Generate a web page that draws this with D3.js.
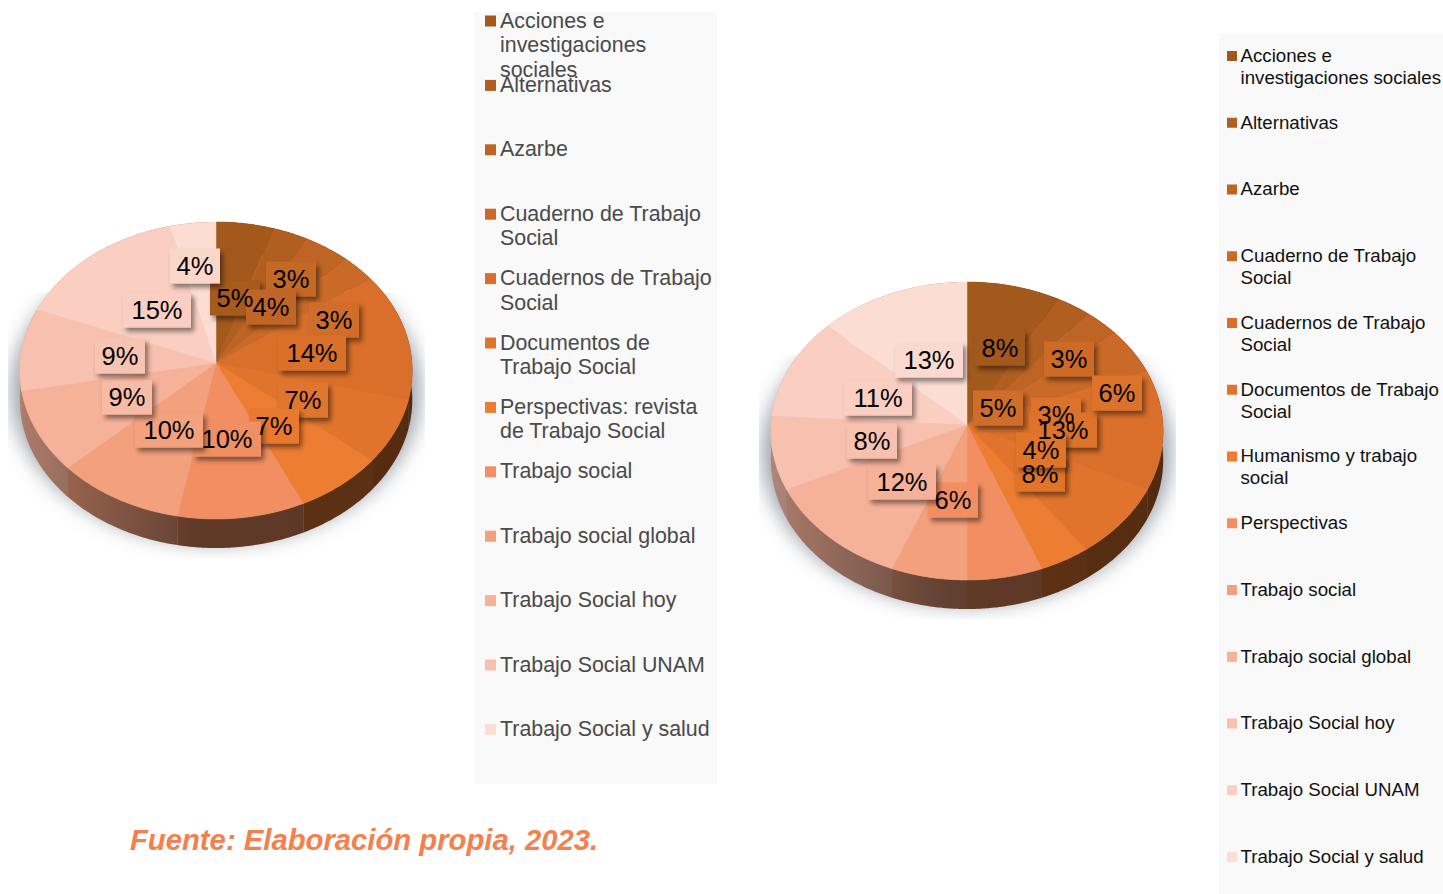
<!DOCTYPE html>
<html>
<head>
<meta charset="utf-8">
<script src="https://cdn.jsdelivr.net/npm/d3@7"></script>
<style>
  html, body { margin: 0; padding: 0; background: #fff; }
  svg { display: block; font-family: "Liberation Sans", Arial, sans-serif; }
</style>
</head>
<body>
<svg id="chart" width="1443" height="894"></svg>
<script>
const leftCategories = ["Acciones e|investigaciones|sociales", "Alternativas", "Azarbe", "Cuaderno de Trabajo|Social", "Cuadernos de Trabajo|Social", "Documentos de|Trabajo Social", "Perspectivas: revista|de Trabajo Social", "Trabajo social", "Trabajo social global", "Trabajo Social hoy", "Trabajo Social UNAM", "Trabajo Social y salud"];
const rightCategories = ["Acciones e|investigaciones sociales", "Alternativas", "Azarbe", "Cuaderno de Trabajo|Social", "Cuadernos de Trabajo|Social", "Documentos de Trabajo|Social", "Humanismo y trabajo|social", "Perspectivas", "Trabajo social", "Trabajo social global", "Trabajo Social hoy", "Trabajo Social UNAM", "Trabajo Social y salud"];

const leftValues = [5, 3, 4, 3, 14, 7, 7, 10, 10, 9, 9, 15, 4];
const rightValues = [8, 3, 3, 5, 13, 8, 4, 6, 6, 12, 8, 11, 13];

const sliceColors = ["#A3581C", "#B15E21", "#BE6425", "#C96A28", "#D96F2A", "#E0742C", "#ED7D31", "#F18F62", "#F3A07D", "#F6B199", "#F8C0AE", "#FACFC2", "#FBDDD4"];
const leftLegendColors = ["#A3581C", "#B15E21", "#BE6425", "#C96A28", "#D96F2A", "#E0742C", "#ED7D31", "#F18F62", "#F3A07D", "#F6B199", "#F8C0AE", "#FBDDD4"];

// label centres and box tints, in slice order, hand placed like the original
const leftSpots = [[235, 298], [291, 279], [271, 307], [334, 320], [312, 353], [303, 400], [274, 426], [227, 439], [169, 430], [127, 397], [120, 356], [157, 310], [195, 266]];
const leftBoxes = ["#A65A1D", "#C46726", "#C06526", "#D06D29", "#D9712B", "#E0752D", "#E8792F", "#F18F62", "#F4A27E", "#F8BCA6", "#F8C4B2", "#FACFC2", "#FBD6CA"];
const rightSpots = [[1000, 348], [1069, 359], [1056, 415], [998, 408], [1063, 430], [1040, 474], [1041, 450], [1117, 393], [953, 500], [902, 482], [872, 441], [878, 398], [929, 360]];
const rightBoxes = ["#A3581C", "#CC6B28", "#DB732C", "#CF6E2A", "#DD732C", "#E0752C", "#E0752C", "#DD732C", "#F18F62", "#F6B199", "#F8C0AE", "#FACFC2", "#FBD9CE"];

const svg = d3.select("#chart");
const defs = svg.append("defs");

defs.append("filter").attr("id", "blur").attr("x", "-20%").attr("y", "-20%").attr("width", "140%").attr("height", "140%")
  .append("feGaussianBlur").attr("stdDeviation", 10);

defs.append("filter").attr("id", "boxShadow").attr("x", "-20%").attr("y", "-20%").attr("width", "150%").attr("height", "150%")
  .append("feDropShadow").attr("dx", 3).attr("dy", 4).attr("stdDeviation", 2.5).attr("flood-color", "#000").attr("flood-opacity", 0.45);

function drawPie(opt) {
  const { cx, cy, radius, up, down, depth, values, spots, boxes, id } = opt;

  // the pie is seen in perspective, so the near half is a little longer
  const k = (down - up) / (down + up);
  const a = up * (1 + k);
  const project = (angle, dy) => {
    const ux = Math.sin(angle), uy = -Math.cos(angle);
    const w = 1 - k * uy;
    return [cx + radius * ux / w, cy + a * uy / w + (dy || 0)];
  };
  const sample = (start, end) => d3.range(0, 41).map(i => start + (end - start) * i / 40);
  const line = d3.line();

  const arcs = d3.pie().sort(null)(values);
  const g = svg.append("g").attr("id", id);

  // soft floor shadow, cut off by its box as in the picture
  const clipId = id + "-clip";
  defs.append("clipPath").attr("id", clipId).append("rect")
    .attr("x", cx - 208).attr("y", cy - 70).attr("width", 417).attr("height", 70 + down + depth + 10);
  g.append("g").attr("clip-path", `url(#${clipId})`)
    .append("ellipse")
    .attr("cx", cx).attr("cy", cy + 28).attr("rx", radius + 8).attr("ry", (up + down) / 2 + 4)
    .attr("fill", "#9aa0aa").attr("filter", "url(#blur)");

  // side wall, the far half is hidden by the top face
  const shadeId = id + "-shade";
  const shade = defs.append("linearGradient").attr("id", shadeId).attr("gradientUnits", "userSpaceOnUse")
    .attr("x1", cx - radius).attr("x2", cx + radius).attr("y1", 0).attr("y2", 0);
  [[0, 0.3], [0.45, 0.6], [1, 0.62]].forEach(s => {
    shade.append("stop").attr("offset", s[0]).attr("stop-color", "#000").attr("stop-opacity", s[1]);
  });
  const wallPath = d => {
    const pts = sample(d.startAngle, d.endAngle);
    return line(pts.map(t => project(t, 0)).concat(pts.slice().reverse().map(t => project(t, depth)))) + "Z";
  };
  g.selectAll(".wall").data(arcs).enter().append("path")
    .attr("class", "wall")
    .attr("d", wallPath)
    .attr("fill", (d, i) => sliceColors[i]);
  g.selectAll(".wallDark").data(arcs).enter().append("path")
    .attr("class", "wallDark")
    .attr("d", wallPath)
    .attr("fill", `url(#${shadeId})`);

  // top face
  g.selectAll(".slice").data(arcs).enter().append("path")
    .attr("class", "slice")
    .attr("d", d => line([[cx, cy]].concat(sample(d.startAngle, d.endAngle).map(t => project(t, 0)))) + "Z")
    .attr("fill", (d, i) => sliceColors[i])
    .attr("stroke", (d, i) => sliceColors[i])
    .attr("stroke-width", 0.5);

  // data labels: boxes first, so that no number is hidden by a later box
  g.selectAll(".labelBox").data(arcs).enter().append("rect")
    .attr("class", "labelBox")
    .attr("x", (d, i) => spots[i][0] - (d.value >= 10 ? 34 : 25))
    .attr("y", (d, i) => spots[i][1] - 17.5)
    .attr("width", d => d.value >= 10 ? 68 : 50)
    .attr("height", 35)
    .attr("fill", (d, i) => boxes[i])
    .attr("filter", "url(#boxShadow)");
  g.selectAll(".labelText").data(arcs).enter().append("text")
    .attr("class", "labelText")
    .attr("x", (d, i) => spots[i][0])
    .attr("y", (d, i) => spots[i][1] + 9)
    .attr("text-anchor", "middle")
    .attr("font-size", 25.5)
    .attr("fill", "#000")
    .text(d => d.value + "%");
}

function drawLegend(opt) {
  const { box, categories, colors, first, step, swatch, swatchX, textX, textDy, fontSize, lineHeight, textColor } = opt;
  const g = svg.append("g");
  g.append("rect").attr("x", box[0]).attr("y", box[1]).attr("width", box[2]).attr("height", box[3]).attr("fill", "#f9f9f9");

  const y = d3.scaleLinear().domain([0, 1]).range([first, first + step]);
  const rows = g.selectAll("g").data(categories).enter().append("g");
  rows.append("rect")
    .attr("x", swatchX)
    .attr("y", (d, i) => y(i) - swatch / 2)
    .attr("width", swatch).attr("height", swatch)
    .attr("fill", (d, i) => colors[i]);
  rows.each(function(d, i) {
    d3.select(this).selectAll("text").data(d.split("|")).enter().append("text")
      .attr("x", textX)
      .attr("y", (t, j) => y(i) + textDy + j * lineHeight)
      .attr("font-size", fontSize)
      .attr("fill", textColor)
      .text(t => t);
  });
}

drawLegend({ box: [474, 12, 243, 772], categories: leftCategories, colors: leftLegendColors, first: 21, step: 64.4, swatch: 11, swatchX: 485, textX: 500, textDy: 6.5, fontSize: 21.4, lineHeight: 24.5, textColor: "#4a4a4a" });
drawLegend({ box: [1219, 33, 224, 861], categories: rightCategories, colors: sliceColors, first: 56, step: 66.75, swatch: 10, swatchX: 1227, textX: 1240.5, textDy: 5.8, fontSize: 18.7, lineHeight: 22, textColor: "#111" });

drawPie({ id: "pieLeft", cx: 216, cy: 363, radius: 196, up: 141, down: 156, depth: 29, values: leftValues, spots: leftSpots, boxes: leftBoxes });
drawPie({ id: "pieRight", cx: 967, cy: 425, radius: 196, up: 143, down: 155, depth: 29, values: rightValues, spots: rightSpots, boxes: rightBoxes });

svg.append("text")
  .attr("x", 130).attr("y", 850)
  .attr("font-size", 29.25).attr("font-weight", "bold").attr("font-style", "italic")
  .attr("fill", "#F4804E")
  .text("Fuente: Elaboración propia, 2023.");
</script>
</body>
</html>
